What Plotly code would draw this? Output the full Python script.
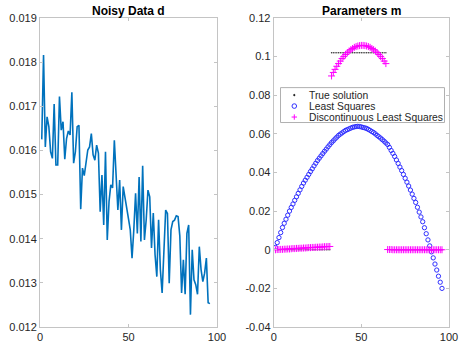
import plotly.graph_objects as go

# ---------------- data ----------------
x_idx = list(range(1, 97))

noisy_d = [
    0.01625, 0.01816, 0.01608, 0.01676, 0.01654, 0.01597, 0.01582, 0.01705,
    0.01567, 0.01567, 0.01722, 0.01646, 0.01665, 0.01580, 0.01627, 0.01644,
    0.01635, 0.01732, 0.01571, 0.01597, 0.01654, 0.01657, 0.01467, 0.01560,
    0.01543, 0.01572, 0.01601, 0.01608, 0.01638, 0.01590, 0.01578, 0.01612,
    0.01594, 0.01461, 0.01544, 0.01431, 0.01597, 0.01397, 0.01484, 0.01522,
    0.01515, 0.01623, 0.01555, 0.01465, 0.01533, 0.01420, 0.01518, 0.01496,
    0.01470, 0.01445, 0.01420, 0.01356, 0.01420, 0.01503, 0.01412, 0.01540,
    0.01394, 0.01565, 0.01397, 0.01443, 0.01510, 0.01495, 0.01379, 0.01458,
    0.01364, 0.01314, 0.01443, 0.01330, 0.01277, 0.01390, 0.01465, 0.01457,
    0.01299, 0.01420, 0.01439, 0.01442, 0.01452, 0.01450, 0.01406, 0.01277,
    0.01352, 0.01274, 0.01412, 0.01431, 0.01228, 0.01375, 0.01307, 0.01296,
    0.01274, 0.01382, 0.01330, 0.01303, 0.01322, 0.01356, 0.01255, 0.01253,
]

true_m = [0.0] * 32 + [0.102] * 32 + [0.0] * 32

ls_m = [
    0.0012, 0.0037, 0.0063, 0.0089, 0.0115, 0.0137, 0.0158, 0.0179,
    0.0200, 0.0219, 0.0237, 0.0256, 0.0274, 0.0292, 0.0310, 0.0328,
    0.0345, 0.0360, 0.0375, 0.0390, 0.0405, 0.0419, 0.0434, 0.0448,
    0.0462, 0.0474, 0.0486, 0.0498, 0.0510, 0.0521, 0.0533, 0.0544,
    0.0555, 0.0564, 0.0574, 0.0583, 0.0592, 0.0599, 0.0605, 0.0612,
    0.0618, 0.0622, 0.0626, 0.0630, 0.0634, 0.0636, 0.0638, 0.0639,
    0.0638, 0.0636, 0.0633, 0.0631, 0.0628, 0.0623, 0.0618, 0.0612,
    0.0607, 0.0600, 0.0592, 0.0585, 0.0578, 0.0570, 0.0562, 0.0553,
    0.0545, 0.0530, 0.0514, 0.0499, 0.0483, 0.0465, 0.0447, 0.0428,
    0.0410, 0.0390, 0.0370, 0.0350, 0.0330, 0.0309, 0.0288, 0.0266,
    0.0245, 0.0220, 0.0195, 0.0170, 0.0145, 0.0114, 0.0083, 0.0051,
    0.0020, -0.0011, -0.0042, -0.0074, -0.0105, -0.0137, -0.0168, -0.0200,
]

dls_m = [
    0.0000, 0.0001, 0.0001, 0.0002, 0.0002, 0.0003, 0.0003, 0.0004,
    0.0004, 0.0005, 0.0006, 0.0006, 0.0007, 0.0007, 0.0008, 0.0008,
    0.0009, 0.0009, 0.0010, 0.0011, 0.0011, 0.0012, 0.0012, 0.0013,
    0.0013, 0.0014, 0.0014, 0.0015, 0.0016, 0.0016, 0.0017, 0.0017,
    0.0900, 0.0918, 0.0934, 0.0950, 0.0964, 0.0977, 0.0990, 0.1001,
    0.1011, 0.1021, 0.1029, 0.1036, 0.1042, 0.1048, 0.1052, 0.1055,
    0.1057, 0.1058, 0.1058, 0.1057, 0.1055, 0.1052, 0.1048, 0.1042,
    0.1036, 0.1029, 0.1021, 0.1011, 0.1001, 0.0990, 0.0977, 0.0964,
    0.0001, 0.0001, 0.0001, 0.0000, 0.0000, 0.0000, 0.0000, 0.0000,
    0.0000, 0.0000, 0.0000, 0.0000, 0.0000, 0.0000, 0.0000, 0.0000,
    0.0000, 0.0000, 0.0000, 0.0000, 0.0000, 0.0000, 0.0000, 0.0000,
    0.0000, 0.0000, 0.0000, 0.0000, 0.0000, 0.0000, 0.0000, 0.0000,
]

left_yticks = [0.012, 0.013, 0.014, 0.015, 0.016, 0.017, 0.018, 0.019]
left_yticktext = ["0.012", "0.013", "0.014", "0.015", "0.016", "0.017", "0.018", "0.019"]
right_yticks = [-0.04, -0.02, 0, 0.02, 0.04, 0.06, 0.08, 0.1, 0.12]
right_yticktext = ["-0.04", "-0.02", "0", "0.02", "0.04", "0.06", "0.08", "0.1", "0.12"]
xticks = [0, 50, 100]
legend_labels = ["True solution", "Least Squares", "Discontinuous Least Squares"]

# ---------------- layout geometry (window pixels; body margin removed) ----------------
W, H = 462, 342
PLOT_L, PLOT_R, PLOT_T, PLOT_B = 40, 449, 17.7, 327.5
ML, MT = PLOT_L, PLOT_T
MR, MB = W - PLOT_R, H - PLOT_B
PW, PH = W - ML - MR, H - MT - MB


def px_x(p):
    return (p - ML) / PW


def px_y(p):
    return (H - MB - p) / PH


FONT = "Liberation Sans, Arial, Helvetica, sans-serif"
AXCOL = "#c4c4c4"
TXTCOL = "#262626"

fig = go.Figure()

fig.add_trace(go.Scatter(
    x=x_idx, y=noisy_d, mode="lines",
    line=dict(color="#0072BD", width=1.6),
    xaxis="x", yaxis="y", showlegend=False,
))

fig.add_trace(go.Scatter(
    x=x_idx, y=true_m, mode="markers", name=legend_labels[0],
    marker=dict(color="#333333", size=1.4),
    xaxis="x2", yaxis="y2", showlegend=False,
))
fig.add_trace(go.Scatter(
    x=x_idx, y=ls_m, mode="markers", name=legend_labels[1],
    marker=dict(symbol="circle-open", color="#2f2fff", size=4.3, line=dict(width=1)),
    xaxis="x2", yaxis="y2", showlegend=False,
))
fig.add_trace(go.Scatter(
    x=x_idx, y=dls_m, mode="markers", name=legend_labels[2],
    marker=dict(symbol="cross-thin-open", color="#ff00ff", size=5,
                line=dict(width=1, color="#ff00ff")),
    xaxis="x2", yaxis="y2", showlegend=False,
))

axis_common = dict(
    showline=True, linecolor=AXCOL, linewidth=1, mirror="ticks",
    ticks="inside", ticklen=3, tickcolor=AXCOL, tickwidth=1,
    showgrid=False, zeroline=False, automargin=False,
    tickfont=dict(family=FONT, size=11, color=TXTCOL),
)

x1_dom = [0, px_x(217)]
x2_dom = [px_x(273.7), 1]

fig.update_layout(
    width=W, height=H,
    margin=dict(l=ML, r=MR, t=MT, b=MB, autoexpand=False),
    paper_bgcolor="white", plot_bgcolor="white",
    showlegend=False,
    xaxis=dict(domain=x1_dom, range=[0, 100], tickvals=xticks, anchor="y", **axis_common),
    yaxis=dict(domain=[0, 1], range=[0.012, 0.019], tickvals=left_yticks,
               ticktext=left_yticktext, anchor="x", **axis_common),
    xaxis2=dict(domain=x2_dom, range=[0, 100], tickvals=xticks, anchor="y2", **axis_common),
    yaxis2=dict(domain=[0, 1], range=[-0.04, 0.12], tickvals=right_yticks,
                ticktext=right_yticktext, anchor="x2", **axis_common),
)

# titles
fig.add_annotation(text="<b>Noisy Data d</b>", xref="paper", yref="paper",
                   x=(x1_dom[0] + x1_dom[1]) / 2, y=px_y(11), xanchor="center", yanchor="middle",
                   showarrow=False, font=dict(family=FONT, size=12, color="black"))
fig.add_annotation(text="<b>Parameters m</b>", xref="paper", yref="paper",
                   x=(x2_dom[0] + x2_dom[1]) / 2, y=px_y(11), xanchor="center", yanchor="middle",
                   showarrow=False, font=dict(family=FONT, size=12, color="black"))

# legend box (drawn to match the compact MATLAB legend)
fig.add_shape(type="rect", xref="paper", yref="paper",
              x0=px_x(280.5), x1=px_x(444.5), y0=px_y(122.5), y1=px_y(87.5),
              line=dict(color="#b0b0b0", width=1), fillcolor="white", layer="above")
rows = [95.0, 106.0, 117.0]
sym_x = 294.3
# dot
fig.add_shape(type="circle", xref="paper", yref="paper",
              x0=px_x(sym_x - 0.8), x1=px_x(sym_x + 0.8), y0=px_y(rows[0] + 0.8), y1=px_y(rows[0] - 0.8),
              line=dict(color="black", width=0.5), fillcolor="black", layer="above")
# circle
fig.add_shape(type="circle", xref="paper", yref="paper",
              x0=px_x(sym_x - 2.3), x1=px_x(sym_x + 2.3), y0=px_y(rows[1] + 2.3), y1=px_y(rows[1] - 2.3),
              line=dict(color="#2f2fff", width=1), layer="above")
# plus
fig.add_shape(type="line", xref="paper", yref="paper",
              x0=px_x(sym_x - 2.7), x1=px_x(sym_x + 2.7), y0=px_y(rows[2]), y1=px_y(rows[2]),
              line=dict(color="#ff00ff", width=1), layer="above")
fig.add_shape(type="line", xref="paper", yref="paper",
              x0=px_x(sym_x), x1=px_x(sym_x), y0=px_y(rows[2] - 2.7), y1=px_y(rows[2] + 2.7),
              line=dict(color="#ff00ff", width=1), layer="above")
for lab, ry in zip(legend_labels, rows):
    fig.add_annotation(text=lab, xref="paper", yref="paper", x=px_x(306.5), y=px_y(ry),
                       xanchor="left", yanchor="middle", showarrow=False,
                       font=dict(family=FONT, size=10.3, color=TXTCOL))

fig.write_html("out.html",
               config={"displayModeBar": False},
               post_script="document.body.style.margin='0px';document.body.style.padding='0px';")
